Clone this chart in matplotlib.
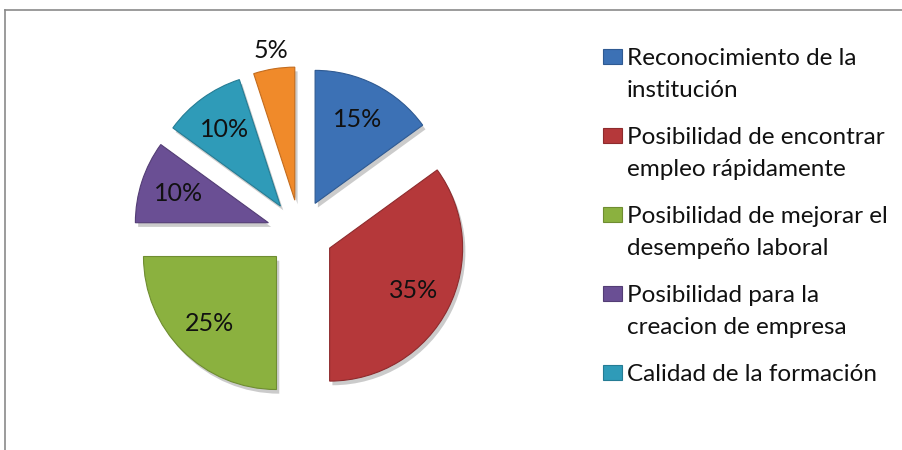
import matplotlib
matplotlib.use("Agg")
import matplotlib.pyplot as plt
from matplotlib.patches import Rectangle
from matplotlib.lines import Line2D
import matplotlib.patheffects as pe
import numpy as np

categories = [
    "Reconocimiento de la\ninstitución",
    "Posibilidad de encontrar\nempleo rápidamente",
    "Posibilidad de mejorar el\ndesempeño laboral",
    "Posibilidad para la\ncreacion de empresa",
    "Calidad de la formación",
    "Otros",
]
values = [15, 35, 25, 10, 10, 5]
colors = ["#3C71B5", "#B5383A", "#8BB13F", "#6A4F94", "#2F9BB8", "#F08A2A"]
edge_colors = ["#2F5A92", "#8E2B2D", "#6F8D31", "#533D75", "#257C94", "#C36C1E"]
legend_shown = 5  # legend in the reference shows only the first five entries

plt.rcParams['font.family'] = ['Lato', 'DejaVu Sans']

W, H = 903, 450
fig = plt.figure(figsize=(W / 100, H / 100), dpi=100)
ax = fig.add_axes([0, 0, 1, 1])

R = 133
explode = [0.25 * R] * len(values)   # matplotlib explode is in data units
wedges, texts, autotexts = ax.pie(
    values, colors=colors, startangle=90, counterclock=False,
    radius=R, center=(300, H - 233), explode=explode,
    autopct=lambda p: f"{p:.0f}%", pctdistance=0.71,
    textprops=dict(fontsize=18, color="#111111"),
    wedgeprops=dict(linewidth=0.8),
)
ax.set_xlim(0, W)
ax.set_ylim(0, H)
ax.set_aspect('equal')
ax.axis('off')

for w, ec in zip(wedges, edge_colors):
    w.set_edgecolor(ec)
    w.set_path_effects([pe.SimplePatchShadow(offset=(2, -3), alpha=0.3, shadow_rgbFace="#555555"),
                        pe.Normal()])

# move the small slice label outside its wedge
for w, t, v in zip(wedges, autotexts, values):
    if v < 8:
        ang = np.deg2rad((w.theta1 + w.theta2) / 2)
        cx, cy = w.center
        t.set_position((cx + 1.14 * R * np.cos(ang), cy + 1.14 * R * np.sin(ang)))

# legend drawn manually (pixel positions measured from the top)
x0, y0, step, line = 603, 65, 79, 32
for i in range(legend_shown):
    yb = y0 + i * step
    ax.add_patch(Rectangle((x0, H - (yb - 1)), 19, 15, facecolor=colors[i],
                           edgecolor=edge_colors[i], linewidth=0.8))
    for j, ln in enumerate(categories[i].split("\n")):
        ax.text(x0 + 24, H - (yb + j * line), ln, fontsize=17.5, color="#111111",
                va='baseline', ha='left')

# frame lines (top and left)
ax.add_line(Line2D([5, W], [H - 10, H - 10], color="#8a8a8a", lw=1.2))
ax.add_line(Line2D([5, 5], [H - 10, 0], color="#8a8a8a", lw=1.2))

fig.savefig("out.png", dpi=100)
